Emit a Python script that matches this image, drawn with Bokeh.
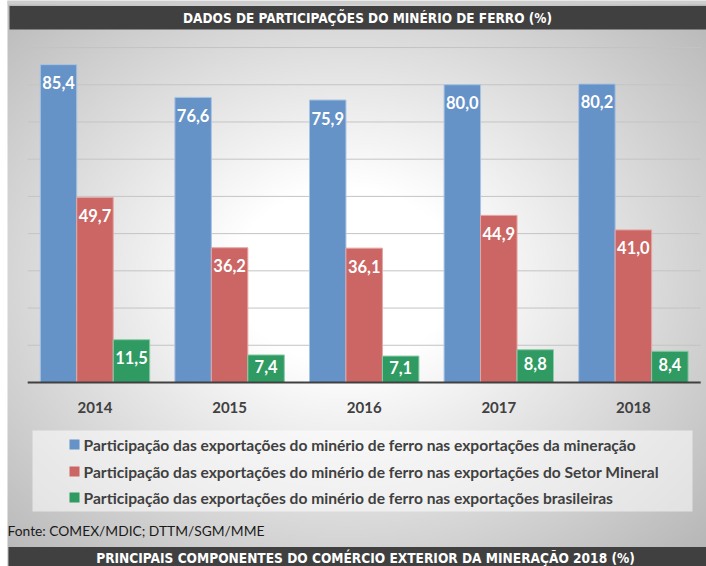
import numpy as np
from bokeh.plotting import figure
from bokeh.models import Range1d
from bokeh.core.properties import value
from bokeh.embed import file_html
from bokeh.resources import INLINE

# ---------------- data ----------------
years = ["2014", "2015", "2016", "2017", "2018"]
mineracao = [85.4, 76.6, 75.9, 80.0, 80.2]
setor_mineral = [49.7, 36.2, 36.1, 44.9, 41.0]
brasileiras = [11.5, 7.4, 7.1, 8.8, 8.4]
grid_ticks = [10, 20, 30, 40, 50, 60, 70, 80, 90]
series_names = [
    "Participação das exportações do minério de ferro nas exportações da mineração",
    "Participação das exportações do minério de ferro nas exportações do Setor Mineral",
    "Participação das exportações do minério de ferro nas exportações brasileiras",
]
title_text = "DADOS DE PARTICIPAÇÕES DO MINÉRIO DE FERRO (%)"
source_text = "Fonte: COMEX/MDIC; DTTM/SGM/MME"
next_title = "PRINCIPAIS COMPONENTES DO COMÉRCIO EXTERIOR DA MINERAÇÃO 2018 (%)"

# ---------------- geometry / style ----------------
W, H = 706, 566
PX_X = 134.6      # pixels per category
PX_Y = 3.722      # pixels per percentage point
X0 = 94.5         # canvas x of first category centre
Y0 = 382.0        # canvas y (from top) of the 0 line
BAR_W = 0.271

xs = -X0 / PX_X
xe = xs + W / PX_X
ye = Y0 / PX_Y
ys = ye - H / PX_Y


def cx(px):
    return xs + px / PX_X


def cy(py):
    return ye - py / PX_Y


colors = ["#6592C7", "#CB6664", "#2F9A62"]
edge = ["#A9C3E3", "#E4A6A4", "#8CCBA8"]
DARK = "#404040"
LATO = value("Lato")
NARROW = value("'Liberation Sans Narrow', 'DejaVu Sans Condensed', 'Roboto', sans-serif")

p = figure(width=W, height=H, x_range=Range1d(xs, xe), y_range=Range1d(ys, ye),
           output_backend="svg", toolbar_location=None, min_border=0,
           x_axis_type=None, y_axis_type=None)
p.grid.visible = False
p.outline_line_color = None
p.background_fill_color = "white"
p.border_fill_color = "white"

# background radial gradient (page area right of the white 7px margin)
left_px = 7
gw, gh = (W - left_px) // 2 + 1, H // 2
gx = left_px + (np.arange(gw) + 0.5) * 2
gy = (np.arange(gh) + 0.5) * 2
GX, GY = np.meshgrid(gx, gy)
d = np.sqrt(((GX - 345) / 380.0) ** 2 + ((GY - 275) / 300.0) ** 2)
c = 255 - 64 * np.clip((d - 0.3) / 0.9, 0, None)
c = np.clip(c, 175, 255).astype(np.uint32)
img = (255 << 24) | (c << 16) | (c << 8) | c
img = img[::-1].copy()
p.image_rgba(image=[img], x=cx(left_px), y=ys, dw=gw * 2 / PX_X, dh=H / PX_Y)

# grid lines
n = len(years)
p.segment(x0=[-0.5] * len(grid_ticks), x1=[n - 0.5] * len(grid_ticks),
          y0=grid_ticks, y1=grid_ticks, line_color="#c4c4c4", line_width=1)

# bars
xpos = np.arange(n)
series = [mineracao, setor_mineral, brasileiras]
for k, vals in enumerate(series):
    xk = xpos + (k - 1) * BAR_W
    p.vbar(x=xk, top=vals, bottom=0, width=BAR_W, fill_color=colors[k],
           line_color=edge[k], line_width=1)
    ly = [v - min(18.0 / PX_Y, 0.42 * v) for v in vals]
    labels = [f"{v:.1f}".replace(".", ",") for v in vals]
    p.text(x=xk, y=ly, text=labels, text_align="center", text_baseline="middle",
           text_font=LATO, text_font_style="bold", text_font_size="16.5px",
           text_color="white")

# baseline
p.segment(x0=[-0.5], x1=[n - 0.5], y0=[0], y1=[0], line_color=DARK, line_width=2)

# category labels
p.text(x=xpos, y=[-25.0 / PX_Y] * n, text=years, text_align="center",
       text_baseline="middle", text_font=LATO, text_font_style="bold",
       text_font_size="15px", text_color=DARK)

# legend box
p.quad(left=[cx(32)], right=[cx(692)], top=[cy(430)], bottom=[cy(511)],
       fill_color="white", fill_alpha=0.55, line_color=None)
rows = [444, 471, 497]
for k, name in enumerate(series_names):
    r = rows[k]
    p.quad(left=[cx(69)], right=[cx(79)], top=[cy(r - 5)], bottom=[cy(r + 5)],
           fill_color=colors[k], line_color=None)
    p.text(x=[cx(83)], y=[cy(r)], text=[name], text_align="left",
           text_baseline="middle", text_font=LATO, text_font_style="bold",
           text_font_size="15.6px", text_color=DARK)

# source
p.text(x=[cx(7)], y=[cy(530)], text=[source_text], text_align="left",
       text_baseline="middle", text_font=LATO, text_font_size="13.8px",
       text_color="#1a1a1a")

# top strip + title bar
p.quad(left=[cx(7)], right=[cx(W)], top=[cy(0)], bottom=[cy(4)],
       fill_color="#cdcdcd", line_color=None)
p.quad(left=[cx(9)], right=[cx(W)], top=[cy(5.5)], bottom=[cy(29)],
       fill_color=DARK, line_color=None)
p.text(x=[cx(367)], y=[cy(17.5)], text=[title_text], text_align="center",
       text_baseline="middle", text_font=NARROW, text_font_style="bold",
       text_font_size="13.5px", text_color="white")

# bottom title bar
p.quad(left=[cx(8)], right=[cx(W)], top=[cy(546.5)], bottom=[cy(H)],
       fill_color=DARK, line_color=None)
p.text(x=[cx(365)], y=[cy(557.5)], text=[next_title], text_align="center",
       text_baseline="middle", text_font=NARROW, text_font_style="bold",
       text_font_size="13.6px", text_color="white")

open("out.html", "w").write(file_html(p, INLINE))
